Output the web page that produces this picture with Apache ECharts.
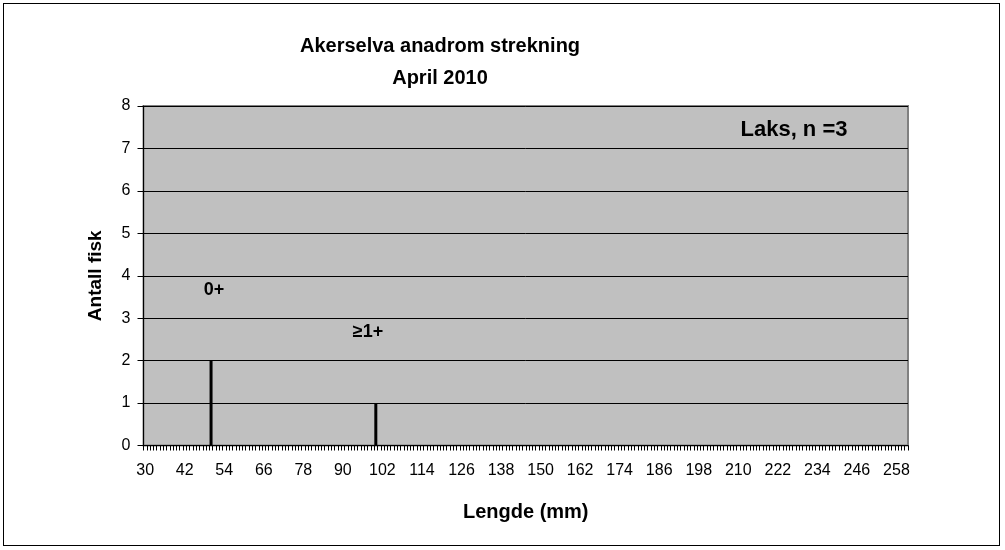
<!DOCTYPE html>
<html>
<head>
<meta charset="utf-8">
<script src="https://cdn.jsdelivr.net/npm/echarts@6/dist/echarts.min.js"></script>
<style>
html,body{margin:0;padding:0;background:#fff;}
#frame{position:absolute;left:3px;top:3px;width:997px;height:543px;border:1px solid #000;box-sizing:border-box;}
#chart{position:absolute;left:0;top:0;width:1005px;height:550px;}
</style>
</head>
<body>
<div id="frame"></div>
<div id="chart"></div>
<script>
// Data
const titleLines = ['Akerselva anadrom strekning', 'April 2010'];
const lengthStart = 30;   // first length class (mm)
const lengthEnd = 261;    // last length class (mm)
const fishLengths = [50, 100];  // lengths with fish (mm)
const fishCounts = [2, 1];      // number of fish
const yTicks = [0, 1, 2, 3, 4, 5, 6, 7, 8];
const groupLabels = ['0+', '≥1+'];
const legendText = 'Laks, n =3';

const categories = [];
for (let v = lengthStart; v <= lengthEnd; v++) categories.push(String(v));
const values = categories.map(c => {
  const i = fishLengths.indexOf(Number(c));
  return i >= 0 ? fishCounts[i] : 0;
});

const font = 'Liberation Sans, Arial, sans-serif';
const chart = echarts.init(document.getElementById('chart'), null, {renderer: 'canvas'});
chart.setOption({
  animation: false,
  backgroundColor: 'transparent',
  title: {
    text: titleLines.join('\n'),
    left: 440, top: 30, textAlign: 'center', padding: 0,
    textStyle: {fontFamily: font, fontSize: 20, fontWeight: 'bold', color: '#000', lineHeight: 32}
  },
  grid: {
    left: 143.5, right: 97, top: 106, bottom: 104.5,
    show: true, backgroundColor: '#C0C0C0', borderColor: '#808080', borderWidth: 2
  },
  xAxis: {
    type: 'category',
    data: categories,
    boundaryGap: true,
    name: 'Lengde (mm)',
    nameLocation: 'middle',
    nameGap: 57,
    nameTextStyle: {fontFamily: font, fontSize: 20, fontWeight: 'bold', color: '#000'},
    axisLine: {lineStyle: {color: '#000', width: 1}},
    axisTick: {show: true, interval: 0, length: 5, inside: false, lineStyle: {color: '#000', width: 1}},
    axisLabel: {interval: 11, fontFamily: font, fontSize: 16, color: '#000', margin: 17},
    splitLine: {show: false}
  },
  yAxis: {
    type: 'value',
    min: yTicks[0], max: yTicks[yTicks.length - 1], interval: 1,
    name: 'Antall fisk',
    nameLocation: 'middle',
    nameGap: 38,
    nameRotate: 90,
    nameTextStyle: {fontFamily: font, fontSize: 19, fontWeight: 'bold', color: '#000'},
    axisLine: {show: true, lineStyle: {color: '#000', width: 1}},
    axisTick: {show: true, length: 6, lineStyle: {color: '#000'}},
    axisLabel: {fontFamily: font, fontSize: 16, color: '#000', margin: 13},
    splitLine: {show: true, lineStyle: {color: '#000', width: 1}}
  },
  series: [{
    type: 'bar',
    data: values,
    barWidth: 3,
    itemStyle: {color: '#000'},
    silent: true
  }],
  graphic: [
    {type: 'text', x: 794, y: 130, style: {text: legendText, font: 'bold 22px ' + font, fill: '#000', align: 'center', verticalAlign: 'middle'}},
    {type: 'text', x: 214, y: 290, style: {text: groupLabels[0], font: 'bold 18px ' + font, fill: '#000', align: 'center', verticalAlign: 'middle'}},
    {type: 'text', x: 368, y: 332, style: {text: groupLabels[1], font: 'bold 18px ' + font, fill: '#000', align: 'center', verticalAlign: 'middle'}}
  ]
});
</script>
</body>
</html>
